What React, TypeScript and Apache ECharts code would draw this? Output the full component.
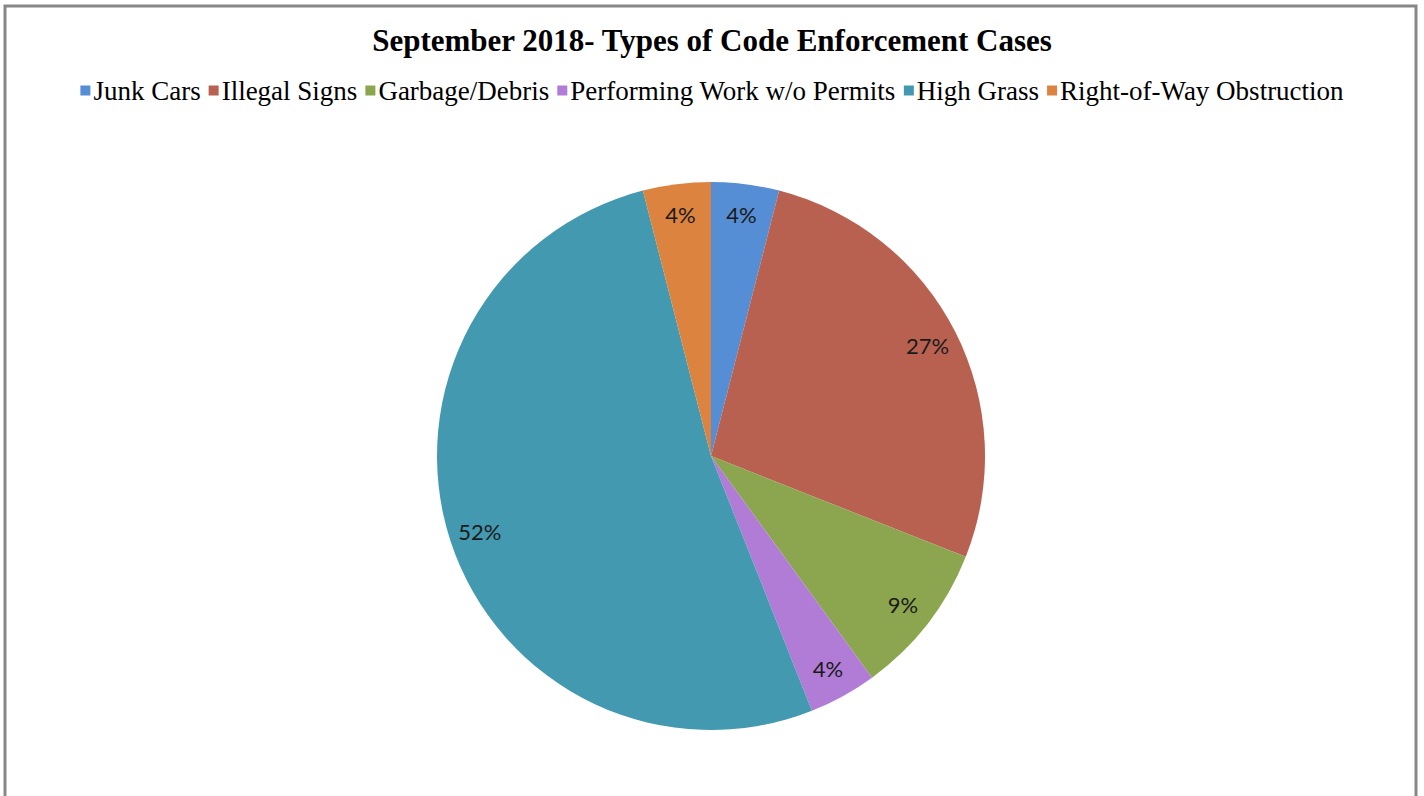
import React, { useEffect, useRef } from "react";
import * as echarts from "echarts";

const categories = [
  "Junk Cars",
  "Illegal Signs",
  "Garbage/Debris",
  "Performing Work w/o Permits",
  "High Grass",
  "Right-of-Way Obstruction",
];
const percentages = [4, 27, 9, 4, 52, 4];
const colors = ["#558ED5", "#B96151", "#8BA64E", "#B07CD6", "#4399B0", "#DC833F"];
const titleText = "September 2018- Types of Code Enforcement Cases";

export default function App() {
  const ref = useRef<HTMLDivElement>(null);
  useEffect(() => {
    document.body.style.margin = "0";
    const chart = echarts.init(ref.current!, null, { renderer: "svg" });
    const data = categories.map((name, i) => ({
      name,
      value: percentages[i],
      itemStyle: { color: colors[i] },
    }));
    chart.setOption({
      animation: false,
      backgroundColor: "#ffffff",
      title: {
        text: titleText,
        left: "center",
        top: 20,
        textStyle: {
          fontFamily: "Liberation Serif",
          fontWeight: "bold",
          fontSize: 31,
          color: "#000000",
        },
      },
      legend: {
        data: categories,
        top: 72,
        left: "center",
        icon: "rect",
        itemWidth: 10,
        itemHeight: 10,
        itemGap: 8,
        selectedMode: false,
        textStyle: {
          fontFamily: "Liberation Serif",
          fontSize: 27,
          color: "#000000",
          padding: [0, 0, 0, -2],
        },
      },
      graphic: [
        {
          type: "rect",
          shape: { x: 5, y: 6, width: 1411, height: 820 },
          style: { fill: "none", stroke: "#878787", lineWidth: 3 },
          silent: true,
        },
      ],
      series: [
        {
          type: "pie",
          center: [711, 456],
          radius: [0, 274],
          startAngle: 90,
          clockwise: true,
          label: { show: false },
          labelLine: { show: false },
          itemStyle: { borderWidth: 0 },
          emphasis: { disabled: true },
          data,
        },
        {
          type: "pie",
          center: [711, 456],
          radius: [206, 274],
          startAngle: 90,
          clockwise: true,
          silent: true,
          itemStyle: { color: "transparent", borderWidth: 0 },
          label: {
            show: true,
            position: "inside",
            formatter: (p: any) => p.value + "%",
            fontFamily: "Lato",
            fontSize: 22,
            color: "#1a1a1a",
          },
          labelLine: { show: false },
          emphasis: { disabled: true },
          data: categories.map((name, i) => ({
            name,
            value: percentages[i],
            itemStyle: { color: "transparent" },
          })),
        },
      ],
    });
    return () => chart.dispose();
  }, []);
  return <div ref={ref} style={{ width: 1424, height: 796 }} />;
}
